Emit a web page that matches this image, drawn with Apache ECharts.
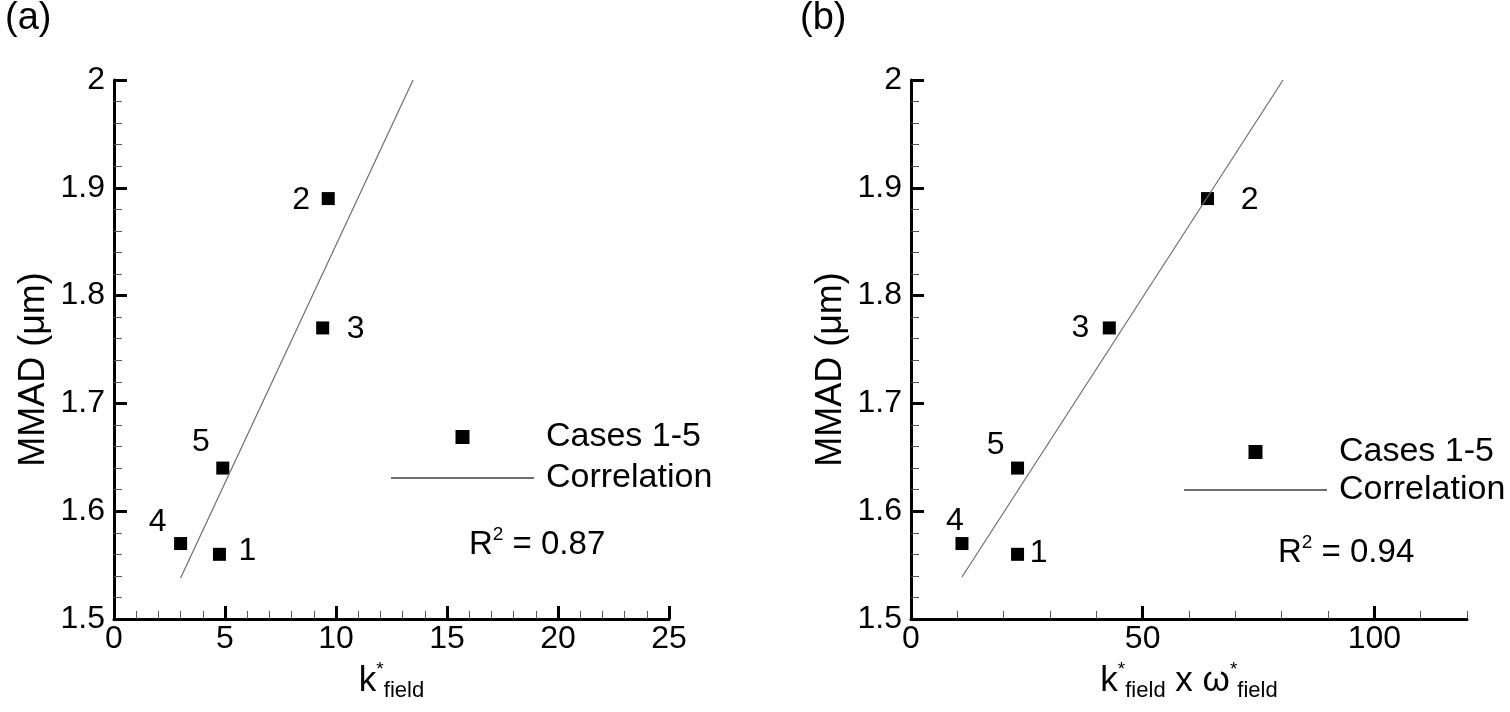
<!DOCTYPE html>
<html><head><meta charset="utf-8">
<script src="https://cdn.jsdelivr.net/npm/echarts@6/dist/echarts.min.js"></script>
<style>html,body{margin:0;padding:0;background:#fff}#c{width:1510px;height:712px}</style>
</head><body><div id="c"></div>
<script>
// ---- data ----
const caseLabels = ['1', '2', '3', '4', '5'];
const mmad = [1.56, 1.89, 1.77, 1.57, 1.64];
const kField = [4.75, 9.65, 9.4, 3.0, 4.9];
const kOmega = [23, 64, 42.8, 11, 23];
const corrAx = [3.0, 13.47];
const corrAy = [1.538, 2.0];
const corrBx = [11.0, 80.3];
const corrBy = [1.539, 2.0];
const yTicks = [1.5, 2.0, 0.1];
const xTicksA = [0, 25, 5];
const xTicksB = [0, 120, 10];
const xMajorB = [0, 50, 100];
const r2A = '0.87';
const r2B = '0.94';
const seriesNames = ['Cases 1-5', 'Correlation'];

// ---- layout (label offsets relative to markers) ----
const labOffA = [[28, -3], [-27, 2], [33, 1], [-23, -21], [-22, -26]];
const labOffB = [[21, -1], [42, 2], [-29, 0], [-7, -22], [-22, -23]];

const FONT = '"Liberation Sans", Arial, sans-serif';
const black = '#000';

function yAxis(grid) {
  return {
    type: 'value', gridIndex: grid, min: yTicks[0], max: yTicks[1], interval: yTicks[2],
    name: 'MMAD (μm)', nameLocation: 'middle', nameGap: 62, nameRotate: 90,
    nameTextStyle: {fontSize: 36, color: black, fontFamily: FONT, padding: [0, 40, 0, 0]},
    axisLine: {show: true, lineStyle: {color: black, width: 3}},
    axisTick: {show: true, inside: true, length: 13, lineStyle: {color: black, width: 3}},
    minorTick: {show: true, splitNumber: 5, length: 8, lineStyle: {color: '#555', width: 1}},
    axisLabel: {fontSize: 32, color: black, margin: 9, fontFamily: FONT},
    splitLine: {show: false}, minorSplitLine: {show: false}
  };
}

const xNameRich = {
  k: {fontSize: 35, lineHeight: 42, color: black, fontFamily: FONT},
  sup: {fontSize: 19, lineHeight: 16, verticalAlign: 'top', color: black, fontFamily: FONT},
  sub: {fontSize: 22, lineHeight: 14, verticalAlign: 'bottom', color: black, fontFamily: FONT}
};

function scatterSeries(xi, yi, xs, offs) {
  return {
    type: 'scatter', name: seriesNames[0], xAxisIndex: xi, yAxisIndex: yi,
    symbol: 'rect', symbolSize: 13, itemStyle: {color: black, opacity: 1},
    emphasis: {disabled: true},
    label: {show: true, position: 'inside', fontSize: 32, color: black, fontFamily: FONT,
      formatter: p => caseLabels[p.dataIndex]},
    data: xs.map((x, i) => ({value: [x, mmad[i]], label: {offset: offs[i]}}))
  };
}
function corrSeries(xi, yi, xs, ys) {
  return {
    type: 'line', name: seriesNames[1], xAxisIndex: xi, yAxisIndex: yi,
    symbol: 'none', lineStyle: {color: '#6e6e6e', width: 1.2}, itemStyle: {color: '#6e6e6e'},
    emphasis: {disabled: true},
    data: xs.map((x, i) => [x, ys[i]])
  };
}
function legend(left, top, gap) {
  return {
    left: left, top: top, orient: 'vertical', padding: 0, itemGap: gap,
    itemWidth: 143, itemHeight: 14, selectedMode: false,
    textStyle: {fontSize: 34, color: black, fontFamily: FONT, lineHeight: 36, padding: [0, 0, 0, 7]},
    data: [
      {name: seriesNames[0], icon: 'path://M0 0H10V10H0Z', itemStyle: {color: black, opacity: 1}},
      {name: seriesNames[1], itemStyle: {opacity: 0}}
    ]
  };
}
const r2Rich = {
  r: {fontSize: 33, lineHeight: 40, color: black, fontFamily: FONT, fontWeight: 'normal'},
  s: {fontSize: 19, lineHeight: 20, verticalAlign: 'top', color: black, fontFamily: FONT, fontWeight: 'normal'}
};

const option = {
  animation: false,
  backgroundColor: '#fff',
  textStyle: {fontFamily: FONT},
  title: [
    {text: '(a)', left: 5, top: 0, padding: 0, textStyle: {fontSize: 38, fontWeight: 'normal', color: black, fontFamily: FONT}},
    {text: '(b)', left: 800, top: 0, padding: 0, textStyle: {fontSize: 38, fontWeight: 'normal', color: black, fontFamily: FONT}},
    {text: '{r|R}{s|2}{r| = ' + r2A + '}', left: 469, top: 525, padding: 0, textStyle: {fontWeight: 'normal', rich: r2Rich}},
    {text: '{r|R}{s|2}{r| = ' + r2B + '}', left: 1278, top: 533, padding: 0, textStyle: {fontWeight: 'normal', rich: r2Rich}}
  ],
  legend: [legend(390, 419, 5), legend(1183, 434, 2)],
  grid: [
    {left: 114, top: 80, width: 555, height: 539},
    {left: 911, top: 80, width: 556, height: 539}
  ],
  xAxis: [
    {
      type: 'value', gridIndex: 0, min: xTicksA[0], max: xTicksA[1], interval: xTicksA[2],
      name: '{k|k}{sup|*}{sub|field}', nameLocation: 'middle', nameGap: 32,
      nameTextStyle: {rich: xNameRich},
      axisLine: {show: true, lineStyle: {color: black, width: 3}},
      axisTick: {show: true, inside: true, length: 13, lineStyle: {color: black, width: 3}},
      minorTick: {show: true, splitNumber: 5, length: 8, lineStyle: {color: '#555', width: 1}},
      axisLabel: {fontSize: 32, color: black, margin: 4, fontFamily: FONT},
      splitLine: {show: false}, minorSplitLine: {show: false}
    },
    {
      type: 'value', gridIndex: 1, position: 'bottom', min: xTicksB[0], max: xTicksB[1], interval: xTicksB[2],
      name: '{k|k}{sup|*}{sub|field}{k| x ω}{sup|*}{sub|field}', nameLocation: 'middle', nameGap: 32,
      nameTextStyle: {rich: xNameRich},
      axisLine: {show: true, lineStyle: {color: black, width: 3}},
      axisTick: {show: true, inside: true, length: 8, lineStyle: {color: '#555', width: 1}},
      axisLabel: {fontSize: 32, color: black, margin: 4, fontFamily: FONT, customValues: xMajorB},
      splitLine: {show: false}
    },
    {
      type: 'value', gridIndex: 1, position: 'bottom', offset: 0, min: xTicksB[0], max: xTicksB[1], interval: xTicksB[2],
      axisLine: {show: false},
      axisTick: {show: true, inside: true, length: 13, lineStyle: {color: black, width: 3}, customValues: xMajorB},
      axisLabel: {show: false},
      splitLine: {show: false}
    }
  ],
  yAxis: [yAxis(0), yAxis(1)],
  series: [
    scatterSeries(0, 0, kField, labOffA),
    corrSeries(0, 0, corrAx, corrAy),
    scatterSeries(1, 1, kOmega, labOffB),
    corrSeries(1, 1, corrBx, corrBy)
  ]
};

const chart = echarts.init(document.getElementById('c'), null, {renderer: 'canvas'});
chart.setOption(option);
</script>
</body></html>
